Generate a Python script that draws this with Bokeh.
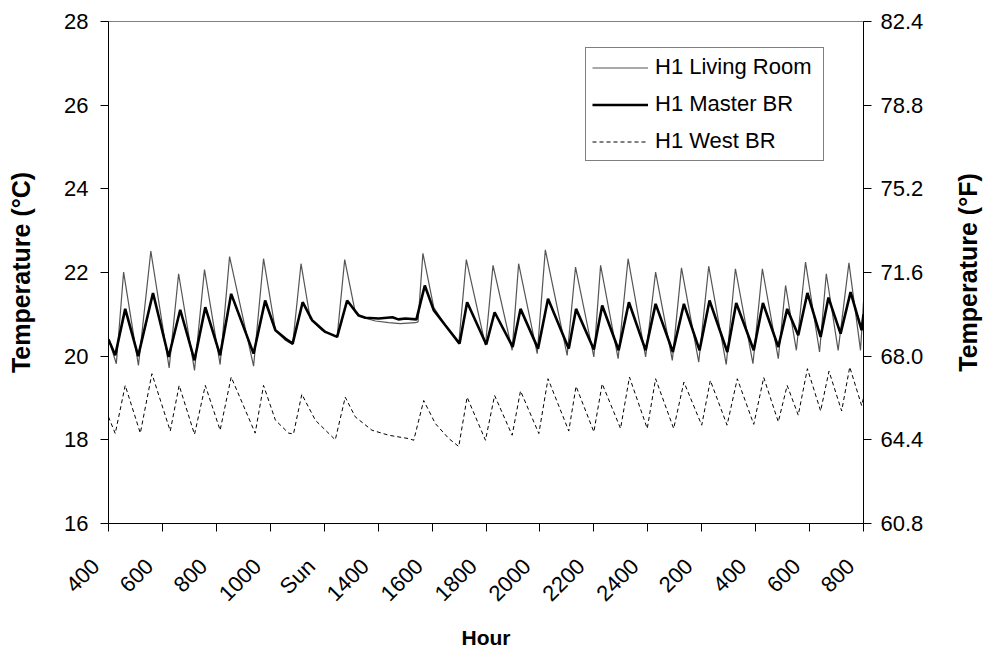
from math import pi
from bokeh.plotting import figure
from bokeh.layouts import row
from bokeh.models import (Range1d, LinearAxis, FixedTicker, Legend, LegendItem,
                          PrintfTickFormatter, Title)
from bokeh.embed import file_html
from bokeh.resources import INLINE

# ---------------- data (hours from first tick, temperature in deg C) ----------------
tick_hours = [0, 2, 4, 6, 8, 10, 12, 14, 16, 18, 20, 22, 24, 26, 28]
tick_labels = ["400", "600", "800", "1000", "Sun", "1400", "1600", "1800",
               "2000", "2200", "2400", "200", "400", "600", "800"]

living_h = [0.00, 0.29, 0.56, 1.11, 1.57, 2.25, 2.60, 3.19, 3.56, 4.14,
            4.49, 5.38, 5.75, 6.19, 6.56, 6.83, 7.14, 7.48, 7.92, 8.48,
            8.76, 9.15, 9.40, 9.90, 10.39, 10.82, 11.38, 11.48, 11.66, 12.06,
            12.49, 12.99, 13.27, 13.98, 14.26, 14.97, 15.21, 15.90, 16.20, 17.01,
            17.32, 18.00, 18.25, 18.90, 19.27, 19.92, 20.29, 20.91, 21.25, 21.89,
            22.26, 22.91, 23.25, 23.90, 24.25, 24.84, 25.11, 25.51, 25.85, 26.37,
            26.62, 27.06, 27.46, 27.89, 28.00]
living_t = [20.42, 19.82, 22.01, 19.78, 22.51, 19.72, 21.97, 19.66, 22.07, 19.80,
            22.38, 19.76, 22.33, 20.62, 20.38, 20.28, 22.21, 20.90, 20.62, 20.46,
            22.31, 21.05, 20.93, 20.84, 20.80, 20.78, 20.80, 20.82, 22.46, 21.17,
            20.74, 20.30, 22.31, 20.26, 22.17, 20.14, 22.21, 20.06, 22.54, 20.02,
            22.13, 19.98, 22.17, 19.94, 22.33, 19.98, 22.01, 19.90, 22.11, 19.86,
            22.15, 19.80, 22.09, 19.82, 22.09, 19.94, 21.69, 20.14, 22.25, 20.10,
            21.97, 20.14, 22.23, 20.14, 21.30]

master_h = [0.00, 0.25, 0.62, 1.10, 1.65, 2.23, 2.66, 3.19, 3.59, 4.14,
            4.55, 5.38, 5.81, 6.19, 6.56, 6.83, 7.20, 7.55, 8.04, 8.48,
            8.85, 9.28, 9.53, 10.02, 10.53, 10.75, 11.01, 11.42, 11.73, 12.06,
            12.49, 13.02, 13.30, 14.01, 14.32, 14.99, 15.28, 15.93, 16.30, 17.07,
            17.34, 18.00, 18.31, 18.92, 19.30, 19.92, 20.29, 20.93, 21.34, 21.92,
            22.29, 22.95, 23.28, 23.93, 24.27, 24.84, 25.17, 25.58, 25.92, 26.41,
            26.70, 27.15, 27.52, 27.93, 28.00]
master_t = [20.40, 20.02, 21.13, 20.00, 21.51, 19.98, 21.11, 19.90, 21.17, 20.02,
            21.49, 20.06, 21.33, 20.62, 20.42, 20.30, 21.29, 20.86, 20.58, 20.46,
            21.33, 20.97, 20.92, 20.90, 20.93, 20.88, 20.90, 20.88, 21.69, 21.10,
            20.74, 20.30, 21.29, 20.28, 21.05, 20.22, 21.13, 20.18, 21.37, 20.18,
            21.13, 20.16, 21.21, 20.14, 21.29, 20.14, 21.25, 20.10, 21.25, 20.14,
            21.33, 20.10, 21.27, 20.14, 21.27, 20.22, 21.13, 20.50, 21.51, 20.46,
            21.40, 20.54, 21.53, 20.62, 21.00]

west_h = [0.00, 0.25, 0.62, 1.18, 1.61, 2.29, 2.62, 3.19, 3.59, 4.14,
          4.55, 5.44, 5.75, 6.19, 6.68, 6.86, 7.17, 7.67, 8.41, 8.78,
          9.15, 9.77, 10.39, 11.13, 11.32, 11.69, 12.12, 12.62, 12.99, 13.30,
          13.98, 14.32, 14.97, 15.28, 15.96, 16.30, 17.07, 17.34, 18.00, 18.31,
          18.99, 19.32, 19.98, 20.29, 20.96, 21.34, 22.00, 22.32, 22.94, 23.32,
          23.93, 24.30, 24.84, 25.17, 25.58, 25.92, 26.41, 26.72, 27.19, 27.49,
          27.93, 28.00]
west_t = [18.55, 18.15, 19.30, 18.16, 19.58, 18.21, 19.30, 18.13, 19.30, 18.23,
          19.50, 18.16, 19.30, 18.47, 18.16, 18.14, 19.09, 18.47, 18.00, 19.02,
          18.55, 18.23, 18.11, 18.03, 17.99, 18.94, 18.39, 18.03, 17.84, 19.02,
          17.99, 19.06, 18.11, 19.17, 18.15, 19.46, 18.21, 19.28, 18.19, 19.34,
          18.27, 19.50, 18.27, 19.46, 18.27, 19.38, 18.35, 19.42, 18.35, 19.46,
          18.37, 19.49, 18.43, 19.30, 18.59, 19.70, 18.69, 19.64, 18.69, 19.74,
          18.82, 19.00]

c_ticks = [16, 18, 20, 22, 24, 26, 28]
f_ticks = [60.8, 64.4, 68.0, 71.6, 75.2, 78.8, 82.4]

FONT = "Liberation Sans"
PAD = "\u00a0" * 3   # trailing pad: rotated labels end a little left of their tick

p = figure(width=951, height=651, output_backend="svg", toolbar_location=None,
           x_range=Range1d(0, 28), y_range=Range1d(16, 28),
           x_axis_location=None, y_axis_location=None,
           min_border_left=108, min_border_right=88,
           min_border_top=21, min_border_bottom=127)
p.xgrid.grid_line_color = None
p.ygrid.grid_line_color = None
p.outline_line_color = "#808080"
p.background_fill_color = "white"
p.border_fill_color = "white"
p.extra_y_ranges = {"F": Range1d(60.8, 82.4)}


def style_axis(ax):
    ax.axis_line_color = "black"
    ax.axis_line_width = 1
    ax.major_tick_line_color = "black"
    ax.major_tick_out = 8
    ax.major_tick_in = 0
    ax.minor_tick_out = 0
    ax.minor_tick_in = 0
    ax.minor_tick_line_color = None
    ax.major_label_text_font = FONT
    ax.major_label_text_font_size = "22px"
    ax.major_label_text_color = "black"
    ax.axis_label_text_font = FONT
    ax.axis_label_text_font_style = "bold"
    ax.axis_label_text_font_size = "25px"
    ax.axis_label_text_color = "black"


yl = LinearAxis(ticker=FixedTicker(ticks=c_ticks), axis_label="Temperature (°C)")
style_axis(yl)
yl.major_label_standoff = 12
yl.axis_label_standoff = 26
p.add_layout(yl, "left")

yr = LinearAxis(y_range_name="F", ticker=FixedTicker(ticks=f_ticks),
                formatter=PrintfTickFormatter(format="%.1f"))
style_axis(yr)
yr.major_label_standoff = 9
p.add_layout(yr, "right")

xb = LinearAxis(ticker=FixedTicker(ticks=tick_hours), axis_label="Hour",
                major_label_overrides={h: lab + PAD for h, lab in zip(tick_hours, tick_labels)})
style_axis(xb)
xb.major_label_orientation = pi / 4
xb.major_label_standoff = 18
xb.axis_label_standoff = 8
xb.axis_label_text_font_size = "21px"
p.add_layout(xb, "below")

r_west = p.line(west_h, west_t, line_color="black", line_width=1, line_dash="4 3")
r_lr = p.line(living_h, living_t, line_color="#555555", line_width=1.2)
r_mb = p.line(master_h, master_t, line_color="black", line_width=2.6)

legend = Legend(items=[LegendItem(label="H1 Living Room", renderers=[r_lr]),
                       LegendItem(label="H1 Master BR", renderers=[r_mb]),
                       LegendItem(label="H1 West BR", renderers=[r_west])],
                location=(477, 362), border_line_color="black", border_line_width=1,
                background_fill_color="white", background_fill_alpha=1.0,
                padding=6, spacing=11, margin=0,
                glyph_width=56, glyph_height=25, label_height=25, label_width=162,
                label_standoff=7, label_text_font=FONT, label_text_font_size="22px",
                label_text_color="black")
p.add_layout(legend)

# narrow companion figure carrying the right-hand axis title (reads upward)
p2 = figure(width=36, height=651, output_backend="svg", toolbar_location=None,
            x_range=Range1d(0, 1), y_range=Range1d(0, 1),
            x_axis_location=None, y_axis_location=None,
            min_border_left=0, min_border_right=0,
            min_border_top=21, min_border_bottom=127)
p2.xgrid.grid_line_color = None
p2.ygrid.grid_line_color = None
p2.outline_line_color = None
p2.background_fill_color = "white"
p2.border_fill_color = "white"
p2.add_layout(Title(text="Temperature (°F)", align="center", standoff=0, offset=0,
                    text_font=FONT, text_font_style="bold", text_font_size="25px",
                    text_color="black"), "left")

layout = row(p, p2, spacing=0)
open("out.html", "w").write(file_html(layout, INLINE))
